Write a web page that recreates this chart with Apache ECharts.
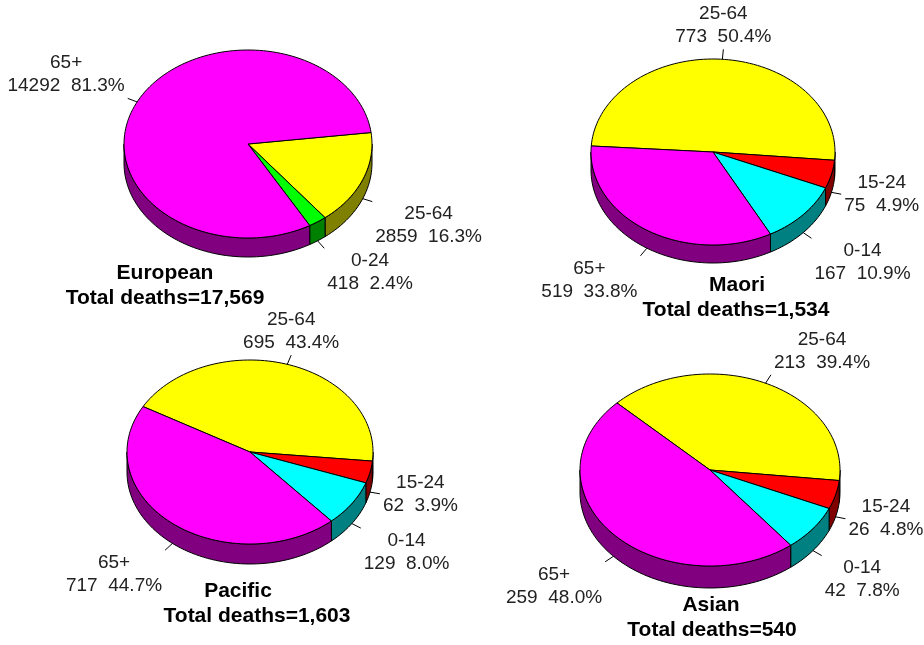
<!DOCTYPE html>
<html>
<head>
<meta charset="utf-8">
<script src="https://cdn.jsdelivr.net/npm/echarts@6/dist/echarts.min.js"></script>
<style>
html, body { margin: 0; padding: 0; background: #fff; }
#chart { width: 924px; height: 645px; }
</style>
</head>
<body>
<div id="chart"></div>
<script>
// data
var groups = ['European', 'Maori', 'Pacific', 'Asian'];

var europeanAges = ['25-64', '0-24', '65+'];
var europeanDeaths = [2859, 418, 14292];

var maoriAges = ['25-64', '15-24', '0-14', '65+'];
var maoriDeaths = [773, 75, 167, 519];

var pacificAges = ['25-64', '15-24', '0-14', '65+'];
var pacificDeaths = [695, 62, 129, 717];

var asianAges = ['25-64', '15-24', '0-14', '65+'];
var asianDeaths = [213, 26, 42, 259];

// top colour, side colour
var ageColors = {
	'65+': ['#ff00ff', '#800080'],
	'25-64': ['#ffff00', '#808000'],
	'0-24': ['#00ff00', '#008000'],
	'15-24': ['#ff0000', '#800000'],
	'0-14': ['#00ffff', '#008080']
};

// where each pie sits: centre, radii, thickness, start angle (deg, clockwise from 3 o'clock)
var layouts = [
	{ cx: 248, cy: 144, rx: 124, ry: 94, depth: 19, start: -7, t1: [165, 273], t2: [165, 298] },
	{ cx: 713, cy: 152, rx: 122, ry: 93, depth: 18, start: 183.7, t1: [737, 285], t2: [736, 310] },
	{ cx: 250, cy: 452, rx: 123, ry: 92, depth: 20, start: 209.6, t1: [238, 591], t2: [257, 616] },
	{ cx: 710, cy: 470, rx: 130, ry: 96, depth: 22, start: 224.3, t1: [711, 605], t2: [712, 630] }
];

var pies = [
	{ ages: europeanAges, deaths: europeanDeaths },
	{ ages: maoriAges, deaths: maoriDeaths },
	{ ages: pacificAges, deaths: pacificDeaths },
	{ ages: asianAges, deaths: asianDeaths }
];

var FONT_FAMILY = '"Liberation Sans", Arial, sans-serif';
var LABEL_SIZE = 19;
var LINE_H = 23;
var measureCtx = document.createElement('canvas').getContext('2d');
function textWidth(s) {
	measureCtx.font = LABEL_SIZE + 'px ' + FONT_FAMILY;
	return measureCtx.measureText(s).width;
}

var RAD = Math.PI / 180;
function ellPt(lay, deg, dy) {
	return [lay.cx + lay.rx * Math.cos(deg * RAD), lay.cy + lay.ry * Math.sin(deg * RAD) + (dy || 0)];
}
function arc(lay, a1, a2, dy) {
	var pts = [];
	var n = Math.max(2, Math.ceil(Math.abs(a2 - a1) / 2));
	for (var k = 0; k <= n; k++) {
		pts.push(ellPt(lay, a1 + (a2 - a1) * k / n, dy));
	}
	return pts;
}
function sum(arr) {
	return arr.reduce(function (a, b) { return a + b; }, 0);
}

function makeRender(pie, lay) {
	var total = sum(pie.deaths);
	return function (params, api) {
		var i = params.dataIndex;
		var before = sum(pie.deaths.slice(0, i));
		var value = api.value(0);
		var a1 = lay.start + before / total * 360;
		var a2 = a1 + value / total * 360;
		var cols = ageColors[pie.ages[i]];
		var children = [];

		// side of the slice (only the front half shows)
		[-360, 0, 360].forEach(function (s) {
			var lo = Math.max(a1, s), hi = Math.min(a2, s + 180);
			if (hi > lo) {
				children.push({
					type: 'polygon',
					z2: 5,
					shape: { points: arc(lay, lo, hi, 0).concat(arc(lay, hi, lo, lay.depth)) },
					style: { fill: cols[1], stroke: '#000', lineWidth: 1 }
				});
			}
		});

		// top of the slice
		children.push({
			type: 'polygon',
			z2: 10,
			shape: { points: [[lay.cx, lay.cy]].concat(arc(lay, a1, a2, 0)) },
			style: { fill: cols[0], stroke: '#000', lineWidth: 1, lineJoin: 'round' }
		});

		// leader line and label
		var mid = (a1 + a2) / 2;
		var c = Math.cos(mid * RAD), s = Math.sin(mid * RAD);
		var p = ellPt(lay, mid, s > 0 ? lay.depth : 0);
		var dx = c * lay.rx, dy = s * lay.ry;
		var len = Math.sqrt(dx * dx + dy * dy);
		var e = [p[0] + dx / len * 10, p[1] + dy / len * 10];
		children.push({
			type: 'polyline',
			z2: 20,
			shape: { points: [p, e] },
			style: { stroke: '#000', lineWidth: 1 }
		});

		var line1 = pie.ages[i];
		var line2 = value + '  ' + (value / total * 100).toFixed(1) + '%';
		var w = Math.max(textWidth(line1), textWidth(line2));
		var bx, by;
		if (Math.abs(c) < 0.35) bx = e[0];
		else if (c > 0) bx = e[0] + 3 + w / 2;
		else bx = e[0] - 3 - w / 2;
		if (Math.abs(s) < 0.3) by = e[1] - LINE_H;
		else if (s > 0) by = e[1] + 1;
		else by = e[1] - 1 - 2 * LINE_H;
		[line1, line2].forEach(function (t, k) {
			children.push({
				type: 'text',
				z2: 20,
				x: bx,
				y: by + LINE_H * (k + 0.5),
				style: {
					text: t,
					fill: '#222',
					font: LABEL_SIZE + 'px ' + FONT_FAMILY,
					align: 'center',
					verticalAlign: 'middle'
				}
			});
		});

		return { type: 'group', children: children };
	};
}

// titles under each pie
var titleElements = [];
pies.forEach(function (pie, idx) {
	var lay = layouts[idx];
	[[groups[idx], lay.t1], ['Total deaths=' + sum(pie.deaths).toLocaleString('en-US'), lay.t2]].forEach(function (t) {
		titleElements.push({
			type: 'text',
			x: t[1][0],
			y: t[1][1],
			style: {
				text: t[0],
				fill: '#000',
				font: 'bold 21px ' + FONT_FAMILY,
				align: 'center',
				verticalAlign: 'middle'
			}
		});
	});
});

var myChart = echarts.init(document.getElementById('chart'));

var option = {
	animation: false,
	backgroundColor: '#fff',
	graphic: titleElements,
	series: pies.map(function (pie, idx) {
		return {
			type: 'custom',
			coordinateSystem: 'none',
			silent: true,
			data: pie.deaths,
			renderItem: makeRender(pie, layouts[idx])
		};
	})
};

myChart.setOption(option);
</script>
</body>
</html>
